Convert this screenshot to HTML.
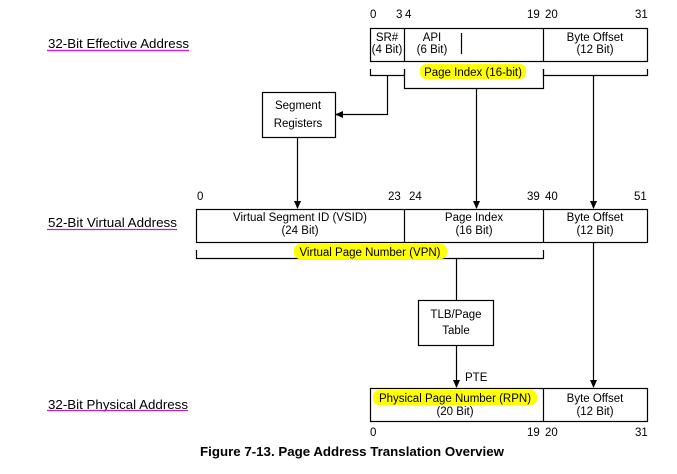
<!DOCTYPE html>
<html><head><meta charset="utf-8"><style>
html,body{margin:0;padding:0;background:#fff;}
svg{display:block;font-family:"Liberation Sans",Arial,sans-serif;}
</style></head><body>
<svg width="677" height="474" viewBox="0 0 677 474" xmlns="http://www.w3.org/2000/svg">
<defs><marker id="a" markerWidth="8" markerHeight="8" refX="7" refY="4" orient="auto" markerUnits="userSpaceOnUse"><path d="M0,0.5 L8,4 L0,7.5 z" fill="#000"/></marker></defs>
<g font-size="12.5" fill="#000">
<text x="48" y="48" textLength="141" lengthAdjust="spacingAndGlyphs">32-Bit Effective Address</text>
<line x1="47" y1="50.5" x2="189" y2="50.5" stroke="#e020e0" stroke-width="1.5"/>
<text x="48" y="227" textLength="129" lengthAdjust="spacingAndGlyphs">52-Bit Virtual Address</text>
<line x1="47" y1="229.5" x2="177" y2="229.5" stroke="#c020c0" stroke-width="1.3"/>
<text x="48" y="409" textLength="140" lengthAdjust="spacingAndGlyphs">32-Bit Physical Address</text>
<line x1="47" y1="410.5" x2="188" y2="410.5" stroke="#c020c0" stroke-width="1.3"/>
</g>
<g fill="none" stroke="#000" stroke-width="1.2">
<rect x="370.5" y="28.5" width="277" height="33"/>
<line x1="404.5" y1="28" x2="404.5" y2="62"/>
<line x1="543.5" y1="28" x2="543.5" y2="62"/>
<line x1="461.5" y1="33" x2="461.5" y2="54"/>
<polyline points="370.5,69 370.5,75.5 404.5,75.5 404.5,69"/>
<polyline points="404.5,69 404.5,88.5 543.5,88.5 543.5,69"/>
<polyline points="543.5,69 543.5,75.5 647.5,75.5 647.5,69"/>
<polyline points="387.5,76 387.5,114.5 336,114.5" marker-end="url(#a)"/>
<rect x="262.5" y="92.5" width="73" height="45"/>
<line x1="297.5" y1="138" x2="297.5" y2="208" marker-end="url(#a)"/>
<line x1="476.5" y1="89" x2="476.5" y2="208" marker-end="url(#a)"/>
<line x1="593.5" y1="76" x2="593.5" y2="208" marker-end="url(#a)"/>
<rect x="196.5" y="209.5" width="451" height="33"/>
<line x1="404.5" y1="209" x2="404.5" y2="243"/>
<line x1="543.5" y1="209" x2="543.5" y2="243"/>
<polyline points="196.5,250 196.5,258.5 543.5,258.5 543.5,250"/>
<line x1="456.5" y1="259" x2="456.5" y2="300"/>
<rect x="418.5" y="300.5" width="75" height="45"/>
<line x1="456.5" y1="346" x2="456.5" y2="387" marker-end="url(#a)"/>
<line x1="593.5" y1="243" x2="593.5" y2="387" marker-end="url(#a)"/>
<rect x="370.5" y="388.5" width="277" height="33"/>
<line x1="543.5" y1="388" x2="543.5" y2="422"/>
</g>
<g fill="#ffff00">
<rect x="420" y="64" width="106" height="15" rx="6"/>
<rect x="294" y="244" width="153" height="15" rx="6"/>
<rect x="373" y="390" width="164" height="15" rx="6"/>
</g>
<g font-size="11.5" fill="#000">
<text x="370" y="18">0</text><text x="396" y="18">3</text><text x="405" y="18">4</text>
<text x="527" y="18">19</text><text x="545" y="18">20</text><text x="635" y="18">31</text>
<g text-anchor="middle">
<text x="387" y="41">SR#</text><text x="387" y="53">(4 Bit)</text>
<text x="432" y="41">API</text><text x="432" y="53">(6 Bit)</text>
<text x="595" y="41">Byte Offset</text><text x="595" y="53">(12 Bit)</text>
<text x="473" y="76">Page Index (16-bit)</text>
<text x="298" y="109">Segment</text><text x="298" y="127">Registers</text>
<text x="300" y="221">Virtual Segment ID (VSID)</text><text x="300" y="234">(24 Bit)</text>
<text x="474" y="221">Page Index</text><text x="474" y="234">(16 Bit)</text>
<text x="595" y="221">Byte Offset</text><text x="595" y="234">(12 Bit)</text>
<text x="370" y="256">Virtual Page Number (VPN)</text>
<text x="456" y="318">TLB/Page</text><text x="456" y="334">Table</text>
<text x="455" y="402">Physical Page Number (RPN)</text><text x="455" y="415">(20 Bit)</text>
<text x="595" y="402">Byte Offset</text><text x="595" y="415">(12 Bit)</text>
</g>
<text x="197" y="200">0</text><text x="388" y="200">23</text><text x="409" y="200">24</text>
<text x="527" y="200">39</text><text x="545" y="200">40</text><text x="634" y="200">51</text>
<text x="465" y="381">PTE</text>
<text x="370" y="436">0</text><text x="527" y="436">19</text><text x="545" y="436">20</text><text x="635" y="436">31</text>
</g>
<text x="200" y="456" font-size="12.5" font-weight="bold" fill="#000" textLength="304" lengthAdjust="spacingAndGlyphs">Figure 7-13. Page Address Translation Overview</text>
</svg>
</body></html>
